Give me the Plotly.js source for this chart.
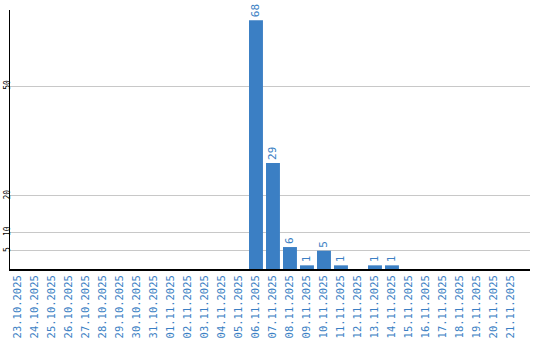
<!DOCTYPE html>
<html>
<head>
<meta charset="utf-8">
<script src="https://cdn.plot.ly/plotly-3.0.1.min.js"></script>
<style>html,body{margin:0;padding:0;background:#fff;}#chart{width:540px;height:340px;}</style>
</head>
<body>
<div id="chart"></div>
<script>
const dates = ["23.10.2025","24.10.2025","25.10.2025","26.10.2025","27.10.2025","28.10.2025","29.10.2025","30.10.2025","31.10.2025","01.11.2025","02.11.2025","03.11.2025","04.11.2025","05.11.2025","06.11.2025","07.11.2025","08.11.2025","09.11.2025","10.11.2025","11.11.2025","12.11.2025","13.11.2025","14.11.2025","15.11.2025","16.11.2025","17.11.2025","18.11.2025","19.11.2025","20.11.2025","21.11.2025"];
const counts = [0,0,0,0,0,0,0,0,0,0,0,0,0,0,68,29,6,1,5,1,0,1,1,0,0,0,0,0,0,0];
const yTicks = [5,10,20,50];
const labels = counts.map(v => v > 0 ? String(v) : "");
const blue = "#3b7fc4";
const trace = {
  type: "bar", x: dates, y: counts, text: labels,
  textposition: "outside", textangle: -90, cliponaxis: false,
  textfont: {family: "DejaVu Sans Mono", size: 11, color: blue},
  marker: {color: blue}, hoverinfo: "none"
};
const layout = {
  width: 540, height: 340,
  margin: {l: 10, r: 10, t: 10, b: 71},
  paper_bgcolor: "#fff", plot_bgcolor: "#fff",
  showlegend: false, bargap: 0.18,
  xaxis: {
    type: "category", range: [-0.47, 30.12], tickangle: -90, showgrid: false,
    showline: true, linecolor: "#000", linewidth: 2,
    ticks: "", tickfont: {family: "DejaVu Sans Mono", size: 10.5, color: blue},
    automargin: false
  },
  yaxis: {
    range: [0, 70.8], tickvals: yTicks, ticktext: yTicks.map(String),
    tickangle: -90, ticks: "", showgrid: true, gridcolor: "#c8c8c8", gridwidth: 1,
    zeroline: false, showline: true, linecolor: "#000", linewidth: 1.5,
    ticklabelstandoff: -5,
    tickfont: {family: "DejaVu Sans Mono", size: 8, color: "#000"},
    automargin: false
  }
};
Plotly.newPlot("chart", [trace], layout, {staticPlot: true, displayModeBar: false});
</script>
</body>
</html>
